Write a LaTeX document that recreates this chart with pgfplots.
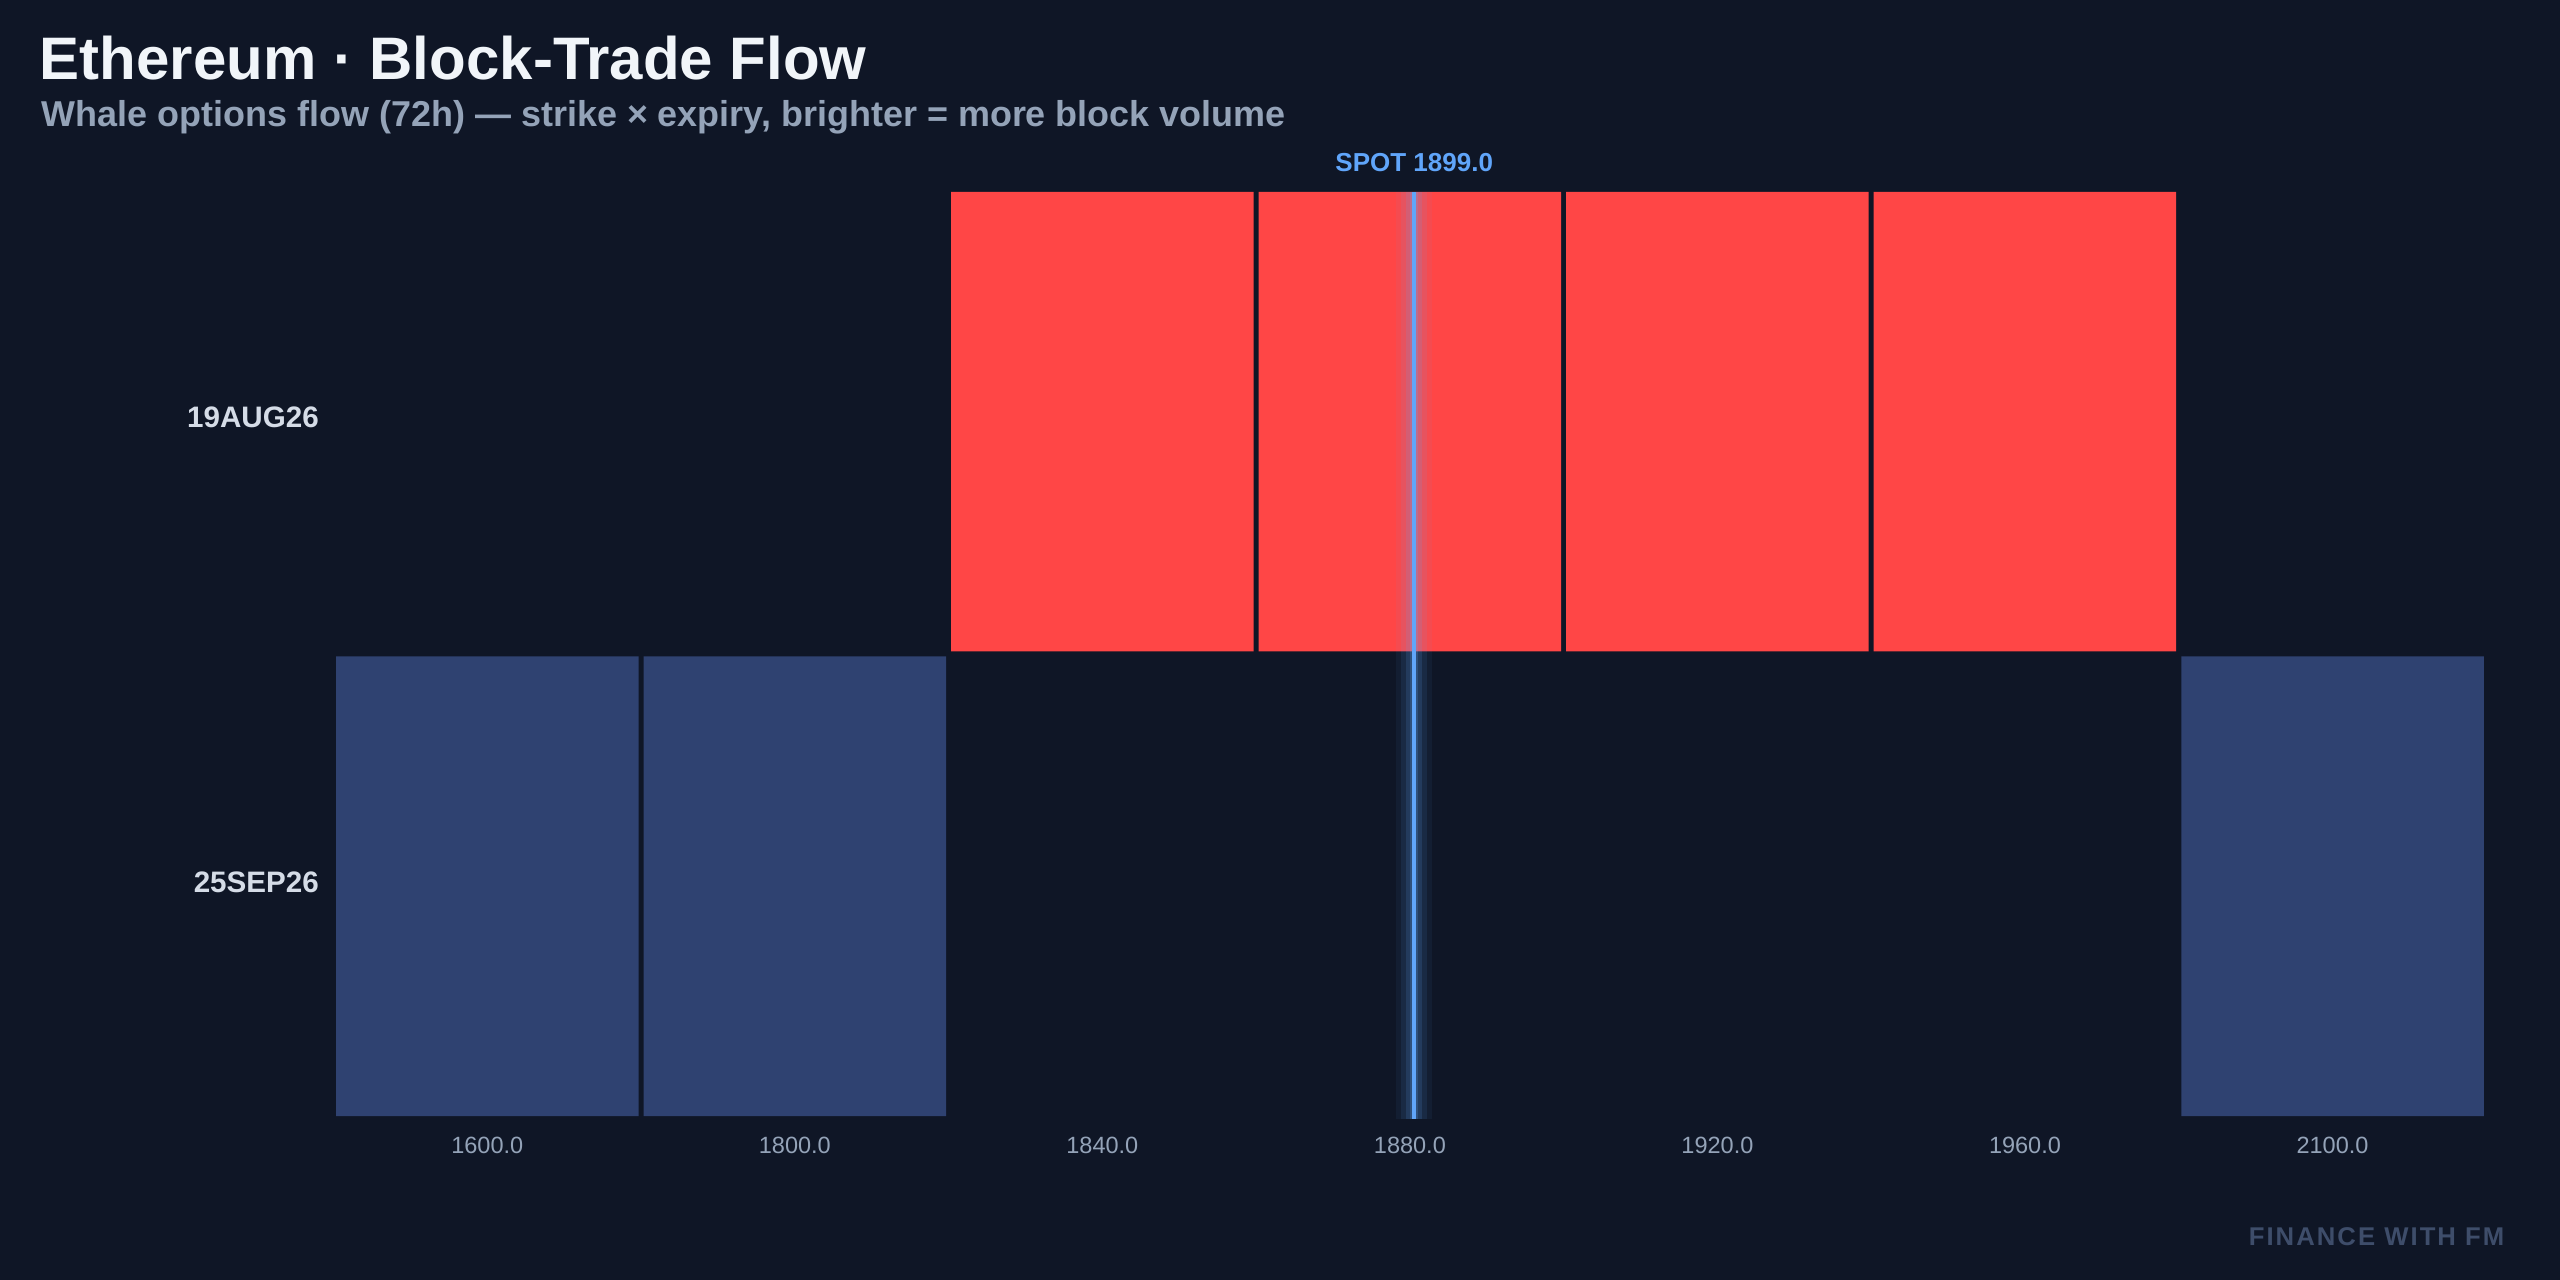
\documentclass[border=0pt]{standalone}
\usepackage{fontspec}
\setmainfont{Liberation Sans}
\newfontfamily\wmfont[LetterSpace=8]{Liberation Sans}
\usepackage{pgfplots}
\pgfplotsset{compat=1.18}

\definecolor{bg}{HTML}{0F1626}
\definecolor{titlecol}{HTML}{F1F5F9}
\definecolor{subcol}{HTML}{94A3B8}
\definecolor{rowcol}{HTML}{D5DCE7}
\definecolor{tickcol}{HTML}{94A3B8}
\definecolor{spotcol}{HTML}{60A5FA}
\definecolor{cellred}{HTML}{FF4646}
\definecolor{cellblue}{HTML}{2F4271}
\definecolor{wmcol}{HTML}{3E4D6A}

% one heatmap cell, centred on the data point, small rounded corners
\pgfdeclareplotmark{cell}{%
  \pgfsetcornersarced{\pgfpoint{0.06cm}{0.06cm}}%
  \pgfpathmoveto{\pgfpoint{-1.5125cm}{0cm}}%
  \pgfpathlineto{\pgfpoint{-1.5125cm}{2.298cm}}%
  \pgfpathlineto{\pgfpoint{1.5125cm}{2.298cm}}%
  \pgfpathlineto{\pgfpoint{1.5125cm}{-2.298cm}}%
  \pgfpathlineto{\pgfpoint{-1.5125cm}{-2.298cm}}%
  \pgfpathclose
  \pgfusepathqfill}

\begin{document}
\begin{tikzpicture}
\fill[bg] (0,0) rectangle (25.6,12.8);

\node[anchor=base west, inner sep=0pt, text=titlecol,
      font=\fontsize{17.07pt}{20pt}\selectfont\bfseries]
  at (0.39,12.00) {Ethereum · Block-Trade Flow};
\node[anchor=base west, inner sep=0pt, text=subcol,
      font=\fontsize{10.23pt}{12pt}\selectfont\bfseries]
  at (0.41,11.53) {Whale options flow (72h) — strike × expiry, brighter = more block volume};

\begin{axis}[
  at={(3.335cm,1.614cm)}, anchor=south west,
  scale only axis, width=21.528cm, height=9.292cm,
  xmin=-0.5, xmax=6.5, ymin=-0.5, ymax=1.5,
  clip=false, clip mode=individual,
  axis line style={draw=none},
  tick style={draw=none},
  major tick length=0pt,
  xtick={0,...,6},
  xticklabels={1600.0,1800.0,1840.0,1880.0,1920.0,1960.0,2100.0},
  xticklabel style={anchor=base, inner sep=0pt, yshift=-0.354cm,
                    text=tickcol, font=\fontsize{6.69pt}{8pt}\selectfont},
  ytick={0,1},
  yticklabels={25SEP26,19AUG26},
  yticklabel style={anchor=east, inner sep=0pt, xshift=-0.14cm, yshift=0.04cm,
                    text=rowcol, font=\fontsize{8.42pt}{10pt}\selectfont\bfseries},
]
% 19AUG26 row
\addplot[only marks, mark=cell, color=cellred, mark options={fill=cellred, draw=none}]
  coordinates {(2,1) (3,1) (4,1) (5,1)};
% 25SEP26 row
\addplot[only marks, mark=cell, color=cellblue, mark options={fill=cellblue, draw=none}]
  coordinates {(0,0) (1,0) (6,0)};

% spot line with glow
\addplot[spotcol, line width=0.36cm, opacity=0.06] coordinates {(3.014,-0.5) (3.014,1.494)};
\addplot[spotcol, line width=0.26cm, opacity=0.09] coordinates {(3.014,-0.5) (3.014,1.494)};
\addplot[spotcol, line width=0.16cm, opacity=0.14] coordinates {(3.014,-0.5) (3.014,1.494)};
\addplot[spotcol, line width=0.08cm, opacity=0.2] coordinates {(3.014,-0.5) (3.014,1.494)};
\addplot[spotcol, line width=0.04cm] coordinates {(3.014,-0.5) (3.014,1.494)};
\node[anchor=base, inner sep=0pt, text=spotcol, yshift=0.174cm,
      font=\fontsize{7.4pt}{9pt}\selectfont\bfseries]
  at (axis cs:3.014,1.5) {SPOT 1899.0};
\end{axis}

\node[anchor=base east, inner sep=0pt, text=wmcol,
      font=\fontsize{7.3pt}{9pt}\wmfont\bfseries]
  at (25.05,0.34) {FINANCE WITH FM};
\end{tikzpicture}
\end{document}
